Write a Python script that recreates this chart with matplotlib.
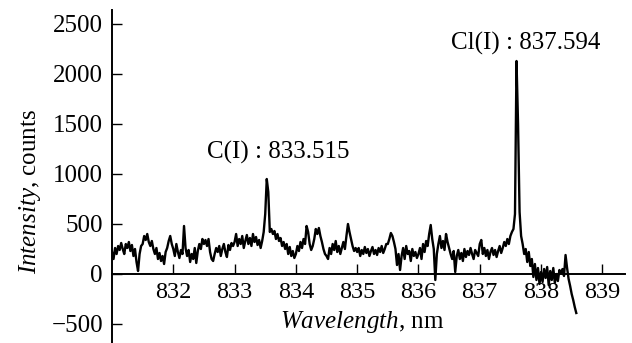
import numpy as np
import matplotlib
matplotlib.use("Agg")
import matplotlib.pyplot as plt

plt.rcParams['font.family'] = 'Liberation Serif'
plt.rcParams['mathtext.fontset'] = 'custom'
plt.rcParams['mathtext.it'] = 'Liberation Serif:italic'
plt.rcParams['mathtext.rm'] = 'Liberation Serif'

# spectrum sampled every 0.025 nm starting at 831.0 nm
start_nm = 831.0
step_nm = 0.025
intensity = [
    220, 150, 260, 200, 280, 240, 310, 250, 200, 300, 260, 320, 230, 290, 180, 250, 120, 30, 200, 280,
    300, 380, 340, 400, 320, 280, 330, 250, 200, 260, 150, 210, 130, 180, 100, 220, 260, 330, 380, 300,
    250, 180, 300, 220, 160, 240, 200, 480, 260, 180, 240, 120, 200, 150, 260, 110, 230, 300, 250, 350,
    300, 340, 280, 350, 220, 150, 130, 200, 260, 220, 280, 180, 250, 300, 220, 170, 290, 240, 310, 280,
    320, 400, 280, 350, 300, 380, 260, 330, 390, 300, 360, 280, 400, 320, 370, 290, 340, 260, 330, 420,
    600, 950, 820, 420, 450, 400, 430, 350, 400, 330, 360, 280, 320, 250, 300, 200, 270, 180, 230, 160,
    200, 280, 230, 320, 260, 350, 300, 480, 420, 300, 240, 280, 350, 450, 400, 460, 380, 320, 250, 200,
    180, 150, 260, 200, 300, 240, 330, 220, 280, 200, 260, 320, 250, 380, 500, 420, 350, 280, 230, 260,
    220, 260, 180, 240, 200, 270, 210, 250, 180, 230, 270, 200, 240, 190, 260, 220, 280, 210, 250, 300,
    300, 350, 410, 380, 320, 250, 90, 200, 40, 180, 260, 150, 280, 200, 230, 130, 250, 180, 220, 160,
    200, 260, 150, 300, 220, 330, 280, 400, 490, 350, 250, -60, 200, 300, 380, 260, 330, 240, 400, 320,
    260, 200, 150, 230, 20, 180, 240, 150, 210, 130, 250, 170, 230, 190, 260, 200, 150, 240, 210, 180,
    300, 340, 200, 260, 180, 240, 150, 220, 260, 190, 240, 170, 230, 280, 210, 260, 320, 280, 350, 300,
    380, 420, 450, 600, 2130, 1500, 620, 380, 300, 200, 250, 120, 220, 80, 150, -30, 100, -60, 60, -100,
    20, -80, 50, -40, 70, -110, 30, -60, 60, -90, 0, -70, 40, 10, 50, -20, 190, 60, -50, -120, -200, -260, -330, -390,
]
wavelength = start_nm + step_nm * np.arange(len(intensity))

peak_labels = ["C(I) : 833.515", "Cl(I) : 837.594"]
peak_label_pos = [(833.72, 1220), (837.75, 2310)]

x_ticks = [832, 833, 834, 835, 836, 837, 838, 839]
y_ticks = [-500, 0, 500, 1000, 1500, 2000, 2500]

fig = plt.figure(figsize=(6.32, 3.43), dpi=100)
ax = fig.add_axes([112 / 632, 0, 513 / 632, 333 / 343])

ax.plot(wavelength, intensity, color='black', lw=1.7)

ax.set_xlim(831.0, 839.37)
ax.set_ylim(-690, 2640)

ax.spines['top'].set_visible(False)
ax.spines['right'].set_visible(False)
ax.spines['bottom'].set_position(('data', 0))
ax.spines['left'].set_linewidth(1.4)
ax.spines['bottom'].set_linewidth(1.4)

ax.set_xticks(x_ticks)
ax.set_yticks(y_ticks)
ax.set_yticklabels(['\u2212500', '0', '500', '1000', '1500', '2000', '2500'])
ax.tick_params(axis='x', direction='in', length=7, width=1, labelsize=17.5, pad=6)
ax.tick_params(axis='y', direction='in', length=7, width=1, labelsize=18, pad=6.5)

for txt, (px, py) in zip(peak_labels, peak_label_pos):
    ax.text(px, py, txt, ha='center', va='center', fontsize=18)

fig.text(30 / 632, 1 - 192 / 343, r'$\mathit{Intensity}$, counts',
         rotation=90, ha='center', va='center', fontsize=18)
fig.text(362 / 632, 1 - 322 / 343, r'$\mathit{Wavelength}$, nm',
         ha='center', va='center', fontsize=18)

fig.savefig('out.png', dpi=100)
